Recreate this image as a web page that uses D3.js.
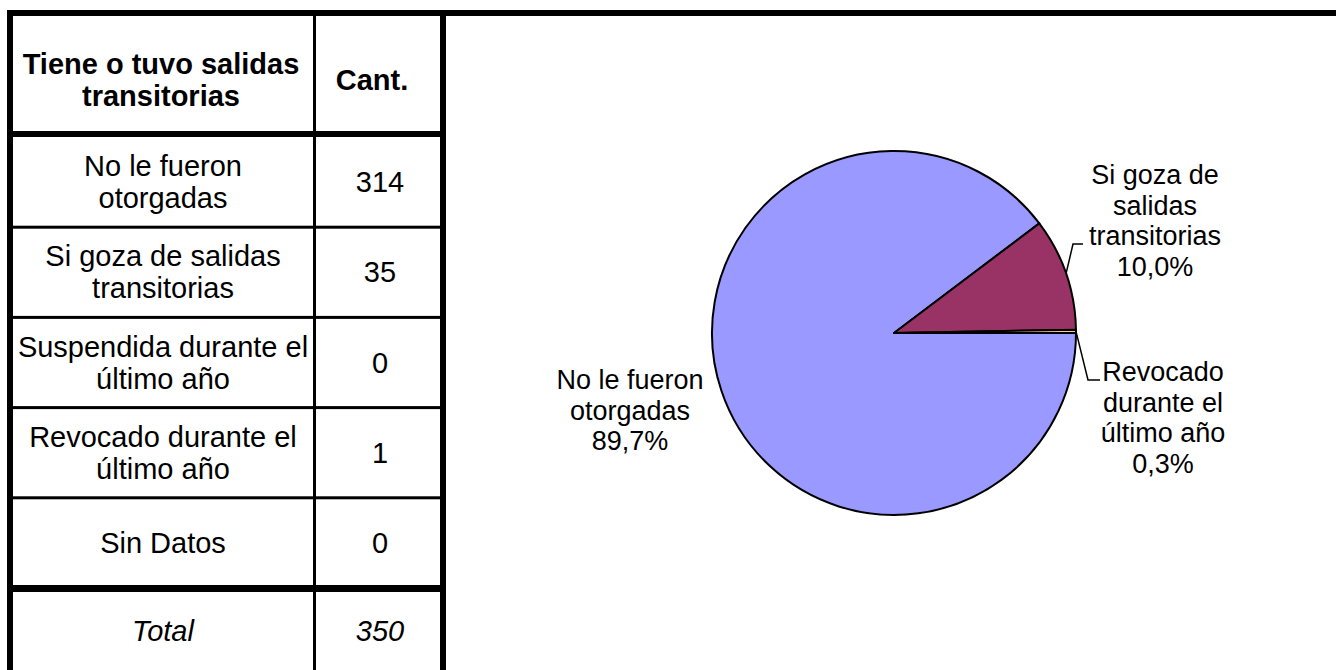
<!DOCTYPE html>
<html>
<head>
<meta charset="utf-8">
<script src="https://cdn.jsdelivr.net/npm/d3@7"></script>
<style>
  html, body { margin: 0; padding: 0; background: #fff; }
  svg { display: block; font-family: "Liberation Sans", Arial, sans-serif; }
</style>
</head>
<body>
<svg id="chart"></svg>
<script>
// data
var categories = ["No le fueron otorgadas", "Si goza de salidas transitorias",
  "Suspendida durante el último año", "Revocado durante el último año", "Sin Datos"];
var tableLines = [["No le fueron", "otorgadas"], ["Si goza de salidas", "transitorias"],
  ["Suspendida durante el", "último año"], ["Revocado durante el", "último año"], ["Sin Datos"]];
var pieLines = [["No le fueron", "otorgadas"], ["Si goza de", "salidas", "transitorias"],
  ["Suspendida", "durante el", "último año"], ["Revocado", "durante el", "último año"], ["Sin Datos"]];
var counts = [314, 35, 0, 1, 0];
var headerLines = ["Tiene o tuvo salidas", "transitorias"];
var headerCount = "Cant.";
var totalLabel = "Total";
var sliceColors = ["#9999FF", "#993366", "#FFFFCC", "#FFCC99", "#660066"];

var W = 1336, H = 670;
var svg = d3.select("#chart").attr("width", W).attr("height", H);

var total = d3.sum(counts);

// ---------- table ----------
var col1 = {x0: 13, x1: 313}, col2 = {x0: 316, x1: 440};
var c1 = (col1.x0 + col1.x1) / 2, c2 = (col2.x0 + col2.x1) / 2 + 2;
var rowY = d3.scaleBand().domain(d3.range(counts.length)).range([137, 588]);
var fs = 29, lh = 32;

var table = svg.append("g");

// header
table.selectAll("text.head")
  .data(headerLines)
  .enter().append("text")
  .attr("class", "head")
  .attr("x", c1 - 2)
  .attr("y", function(d, i) { return 80 + (i - (headerLines.length - 1) / 2) * lh + fs * 0.35; })
  .attr("text-anchor", "middle")
  .attr("font-weight", "bold")
  .attr("font-size", fs)
  .text(function(d) { return d; });
table.append("text")
  .attr("x", c2 - 8).attr("y", 80 + fs * 0.35)
  .attr("text-anchor", "middle")
  .attr("font-weight", "bold")
  .attr("font-size", fs)
  .text(headerCount);

// rows
var rows = table.selectAll("g.row")
  .data(counts)
  .enter().append("g")
  .attr("class", "row")
  .attr("transform", function(d, i) { return "translate(0," + (rowY(i) + rowY.bandwidth() / 2) + ")"; });

rows.each(function(d, i) {
  var g = d3.select(this);
  var lines = tableLines[i];
  g.selectAll("text.lab")
    .data(lines)
    .enter().append("text")
    .attr("class", "lab")
    .attr("x", c1)
    .attr("y", function(t, j) { return (j - (lines.length - 1) / 2) * lh + fs * 0.35; })
    .attr("text-anchor", "middle")
    .attr("font-size", fs)
    .text(function(t) { return t; });
  g.append("text")
    .attr("x", c2).attr("y", fs * 0.35)
    .attr("text-anchor", "middle")
    .attr("font-size", fs)
    .text(d);
});

// row separators
table.selectAll("rect.sep")
  .data(d3.range(1, counts.length))
  .enter().append("rect")
  .attr("class", "sep")
  .attr("x", 13).attr("width", 427)
  .attr("y", function(i) { return rowY(i) - 1.5; })
  .attr("height", 3)
  .attr("fill", "#000");

// total row
var totY = 631;
table.append("text")
  .attr("x", c1).attr("y", totY + fs * 0.35)
  .attr("text-anchor", "middle").attr("font-style", "italic").attr("font-size", fs)
  .text(totalLabel);
table.append("text")
  .attr("x", c2).attr("y", totY + fs * 0.35)
  .attr("text-anchor", "middle").attr("font-style", "italic").attr("font-size", fs)
  .text(total);

// borders
var borders = [
  {x: 7, y: 10, w: W - 7, h: 6},      // top
  {x: 7, y: 10, w: 6, h: H - 10},     // left
  {x: 440, y: 10, w: 6, h: H - 10},   // right of table
  {x: 313, y: 16, w: 3, h: H - 16},   // column divider
  {x: 13, y: 131, w: 427, h: 6},      // header bottom
  {x: 13, y: 585, w: 427, h: 7}       // above total
];
svg.selectAll("rect.border")
  .data(borders)
  .enter().append("rect")
  .attr("class", "border")
  .attr("x", function(d) { return d.x; })
  .attr("y", function(d) { return d.y; })
  .attr("width", function(d) { return d.w; })
  .attr("height", function(d) { return d.h; })
  .attr("fill", "#000");

// ---------- pie ----------
var cx = 894, cy = 333, R = 182;
var pie = d3.pie().sort(null)
  .startAngle(Math.PI / 2).endAngle(Math.PI / 2 + 2 * Math.PI);
var arcs = pie(counts);
var arc = d3.arc().innerRadius(0).outerRadius(R);

var pg = svg.append("g").attr("transform", "translate(" + cx + "," + cy + ")");
pg.selectAll("path")
  .data(arcs.filter(function(a) { return a.value > 0; }))
  .enter().append("path")
  .attr("d", arc)
  .attr("fill", function(a) { return sliceColors[a.index]; })
  .attr("stroke", "#000")
  .attr("stroke-width", 2)
  .attr("stroke-linejoin", "round");

var pct = function(v) { return (v / total * 100).toFixed(1).replace(".", ",") + "%"; };

// label placement (relative to pie center)
var labelLayout = {
  0: {x: -264, y: 56, leader: null},
  1: {x: 261, y: -149, leader: [[179, -89], [189, -89]]},
  3: {x: 269, y: 48, leader: [[194, 47], [206, 47]]}
};
var pfs = 27, plh = 30.5;

arcs.forEach(function(a) {
  var lay = labelLayout[a.index];
  if (!lay || a.value === 0) return;
  if (lay.leader) {
    var mid = (a.startAngle + a.endAngle) / 2;
    var p0 = [R * Math.sin(mid), -R * Math.cos(mid)];
    pg.append("path")
      .attr("d", d3.line()([p0].concat(lay.leader)))
      .attr("fill", "none")
      .attr("stroke", "#000")
      .attr("stroke-width", 1.5);
  }
  var lines = pieLines[a.index].concat([pct(a.value)]);
  pg.selectAll(null)
    .data(lines)
    .enter().append("text")
    .attr("x", lay.x)
    .attr("y", function(t, j) { return lay.y + j * plh; })
    .attr("text-anchor", "middle")
    .attr("font-size", pfs)
    .text(function(t) { return t; });
});
</script>
</body>
</html>
